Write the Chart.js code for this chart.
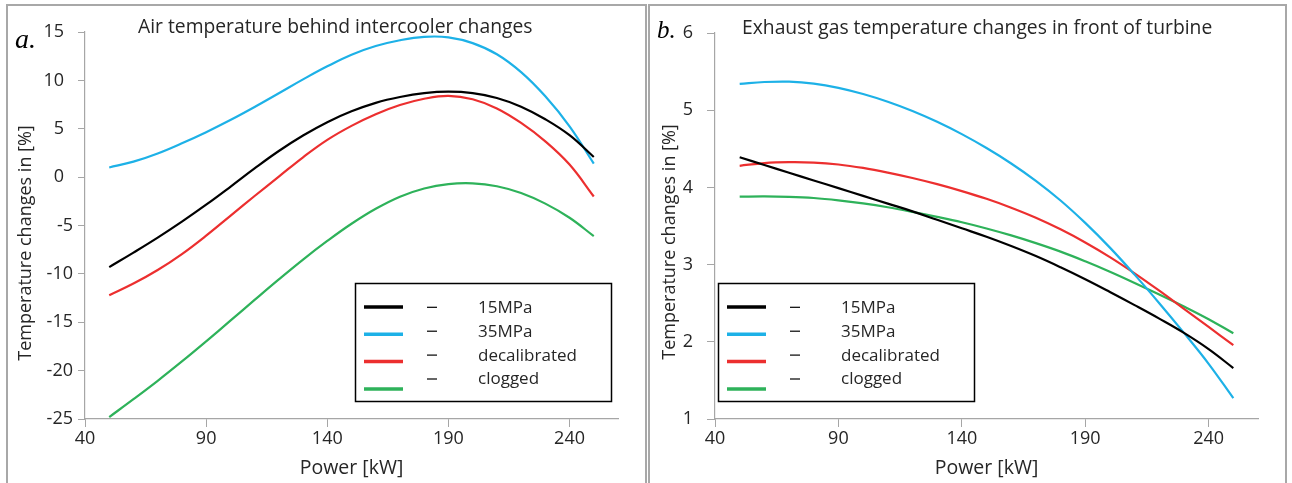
<!DOCTYPE html>
<html><head><meta charset="utf-8">
<script src="https://cdn.jsdelivr.net/npm/chart.js@4.4.1/dist/chart.umd.min.js"></script>
<style>
html,body{margin:0;padding:0;background:#fff;width:1292px;height:483px;overflow:hidden;position:relative}
.panel{position:absolute;border:2px solid #a8a8a8;box-sizing:border-box}
#p1{left:6px;top:4px;width:641px;height:520px}
#p2{left:648px;top:4px;width:639px;height:520px}
canvas{position:absolute;top:0}
#c1{left:0}
#c2{left:647px}
</style></head>
<body>
<div class="panel" id="p1"></div>
<div class="panel" id="p2"></div>
<canvas id="c1" width="646" height="483" style="width:646px;height:483px"></canvas>
<canvas id="c2" width="645" height="483" style="width:645px;height:483px"></canvas>
<script>
// ---- data ----
const power = [50,60,70,80,90,100,110,120,130,140,150,160,170,180,190,200,210,220,230,240,250];
const xTickValues = [40,90,140,190,240];
const seriesNames = ['15MPa','35MPa','decalibrated','clogged'];
const seriesColors = ['#000000','#1db1e7','#ec2f2f','#2eb25a'];

// a. Air temperature behind intercooler changes [%]
const air15MPa        = [-9.3,-7.8,-6.25,-4.6,-2.85,-1.0,0.9,2.7,4.3,5.68,6.8,7.68,8.28,8.68,8.83,8.68,8.18,7.28,5.98,4.33,2.08];
const air35MPa        = [1.0,1.6,2.45,3.5,4.65,5.9,7.25,8.67,10.1,11.45,12.65,13.55,14.15,14.5,14.45,13.85,12.7,10.85,8.35,5.25,1.4];
const airDecalibrated = [-12.2,-11.0,-9.6,-7.95,-6.05,-4.0,-1.95,0.05,2.05,3.85,5.3,6.5,7.45,8.1,8.4,8.05,7.1,5.6,3.7,1.3,-2.0];
const airClogged      = [-24.8,-22.95,-21.05,-19.05,-16.97,-14.84,-12.69,-10.57,-8.52,-6.6,-4.82,-3.27,-2.02,-1.17,-0.72,-0.64,-0.94,-1.64,-2.74,-4.2,-6.1];
const airYTicks = {min:-25, max:15, step:5};

// b. Exhaust gas temperature changes in front of turbine [%]
const gas15MPa        = [4.39,4.29,4.19,4.09,3.99,3.89,3.79,3.69,3.58,3.47,3.36,3.24,3.11,2.965,2.81,2.645,2.475,2.30,2.115,1.905,1.66];
const gas35MPa        = [5.34,5.365,5.37,5.345,5.29,5.21,5.11,4.99,4.85,4.69,4.51,4.31,4.085,3.83,3.54,3.22,2.87,2.5,2.115,1.715,1.27];
const gasDecalibrated = [4.28,4.315,4.327,4.322,4.297,4.252,4.192,4.122,4.042,3.952,3.852,3.737,3.607,3.457,3.287,3.097,2.887,2.662,2.427,2.192,1.957];
const gasClogged      = [3.88,3.883,3.878,3.863,3.833,3.793,3.743,3.683,3.618,3.548,3.468,3.378,3.278,3.168,3.043,2.908,2.763,2.613,2.458,2.293,2.11];
const gasYTicks = {min:1, max:6, step:1};

const FONT = '"Open Sans"';
const TEXT = '#262626';
const AXIS = '#a6a6a6';

function decor(o){
  return {
    id:'decor',
    afterDraw(chart){
      const ctx = chart.ctx, a = chart.chartArea;
      ctx.save();
      ctx.fillStyle = TEXT;
      ctx.textAlign = 'left'; ctx.textBaseline = 'alphabetic';
      ctx.font = o.titleSize + 'px ' + FONT;
      ctx.fillText(o.title, a.left + o.titleDx, o.titleY);
      ctx.fillStyle = '#000';
      ctx.font = 'italic ' + o.letterSize + 'px "Liberation Serif"';
      ctx.fillText(o.letter, o.letterX, o.letterY);
      ctx.fillStyle = TEXT;
      ctx.save();
      ctx.translate(a.left + o.yTitleDx, o.yTitleCy);
      ctx.rotate(-Math.PI/2);
      ctx.textAlign = 'center'; ctx.textBaseline = 'middle';
      ctx.font = '18px ' + FONT;
      ctx.fillText('Temperature changes in [%]', 0, 0);
      ctx.restore();
      // legend box
      const bx = a.left + o.legendDx, by = o.legendTop, bw = 256, bh = 118;
      ctx.strokeStyle = '#000'; ctx.lineWidth = 1.5;
      ctx.strokeRect(bx + 0.5, by + 0.5, bw, bh);
      chart.data.datasets.forEach((ds, i) => {
        const ly = by + 24 + i*27.3;
        ctx.strokeStyle = ds.borderColor; ctx.lineWidth = 3.5;
        ctx.beginPath(); ctx.moveTo(bx + 9, ly); ctx.lineTo(bx + 48, ly); ctx.stroke();
        const ty = by + 24.3 + i*23.9;
        ctx.strokeStyle = '#000'; ctx.lineWidth = 1.2;
        ctx.beginPath(); ctx.moveTo(bx + 72, ty); ctx.lineTo(bx + 82, ty); ctx.stroke();
        ctx.fillStyle = TEXT; ctx.font = '17px ' + FONT;
        ctx.textAlign = 'left'; ctx.textBaseline = 'alphabetic';
        ctx.fillText(ds.label, bx + 123, by + 30 + i*23.8);
      });
      ctx.restore();
    }
  };
}

function makeChart(id, series, yt, o){
  const datasets = series.map((vals, i) => ({
    label: seriesNames[i],
    data: power.map((p, k) => ({x: p, y: vals[k]})),
    borderColor: seriesColors[i],
    backgroundColor: seriesColors[i],
    borderWidth: 2.2,
    pointRadius: 0,
    tension: 0.4,
    fill: false
  }));
  return new Chart(document.getElementById(id), {
    type: 'line',
    data: {datasets},
    options: {
      responsive: false,
      devicePixelRatio: 1,
      animation: false,
      layout: {padding: {left: 0, top: o.padTop, right: o.padRight, bottom: 0}},
      plugins: {legend: {display: false}, tooltip: {enabled: false}, title: {display: false}},
      scales: {
        x: {
          type: 'linear', min: 40, max: 260,
          afterBuildTicks: s => { s.ticks = xTickValues.map(v => ({value: v})); },
          afterFit: s => { s.height = 64; },
          grid: {display: true, drawOnChartArea: false, drawTicks: true, tickLength: 8, color: AXIS, lineWidth: 1},
          border: {display: true, color: AXIS, width: 1.2},
          ticks: {color: TEXT, font: {family: FONT, size: 18}, padding: 1, maxRotation: 0, autoSkip: false},
          title: {display: true, text: 'Power [kW]', color: TEXT, font: {family: FONT, size: 19.5}, padding: {top: 0, bottom: 3}}
        },
        y: {
          type: 'linear', min: yt.min, max: yt.max,
          afterBuildTicks: s => { const t = []; for (let v = yt.min; v <= yt.max + 1e-9; v += yt.step) t.push({value: v}); s.ticks = t; },
          afterFit: s => { s.width = o.yWidth; },
          grid: {display: true, drawOnChartArea: false, drawTicks: true, tickLength: o.tickLen, color: AXIS, lineWidth: 1},
          border: {display: true, color: AXIS, width: 1.2},
          ticks: {color: TEXT, font: {family: FONT, size: 18}, padding: 5, autoSkip: false,
                  callback: v => v < 0 ? '-' + Math.abs(v) : v + '\u2002'}
        }
      }
    },
    plugins: [decor(o)]
  });
}

makeChart('c1', [air15MPa, air35MPa, airDecalibrated, airClogged], airYTicks, {
  padTop: 32, padRight: 28, yWidth: 85, tickLen: 7,
  title: 'Air temperature behind intercooler changes', titleSize: 19.3, titleDx: 53, titleY: 33,
  letter: 'a.', letterSize: 28, letterX: 15, letterY: 48,
  yTitleDx: -59, yTitleCy: 243,
  legendDx: 270, legendTop: 283
});
makeChart('c2', [gas15MPa, gas35MPa, gasDecalibrated, gasClogged], gasYTicks, {
  padTop: 33, padRight: 34, yWidth: 68, tickLen: 8,
  title: 'Exhaust gas temperature changes in front of turbine', titleSize: 19.3, titleDx: 27, titleY: 34,
  letter: 'b.', letterSize: 25, letterX: 10, letterY: 38,
  yTitleDx: -45, yTitleCy: 242,
  legendDx: 3, legendTop: 283
});
</script>
</body></html>
